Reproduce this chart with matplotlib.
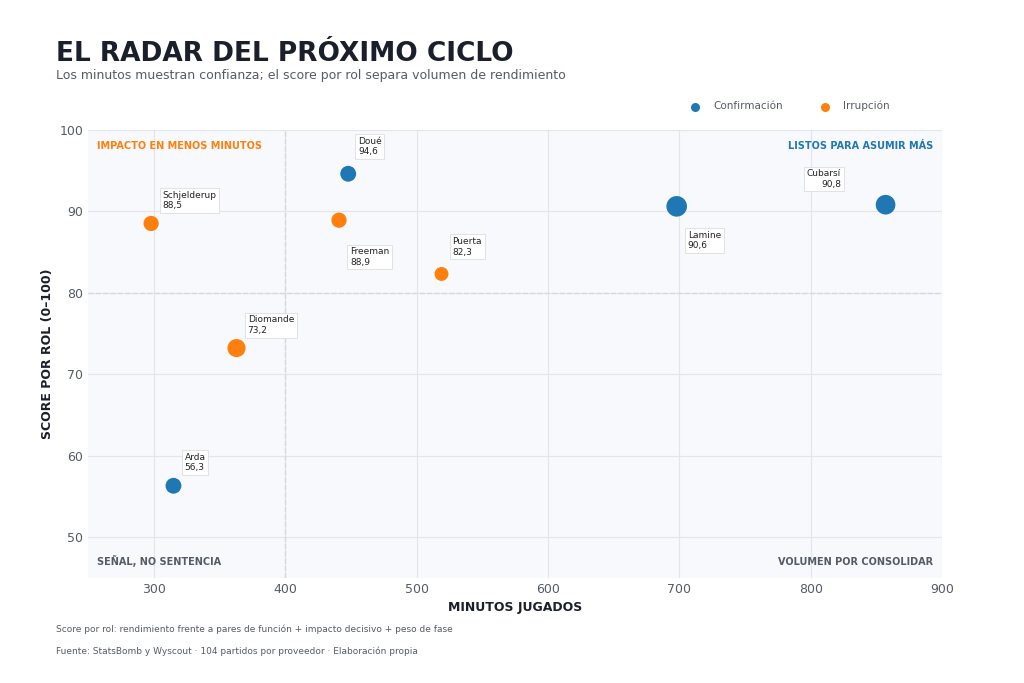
import matplotlib
matplotlib.use("Agg")
import matplotlib.pyplot as plt

names = ["Doué", "Schjelderup", "Freeman", "Puerta", "Diomande", "Arda", "Lamine", "Cubarsí"]
minutes = [448, 298, 441, 519, 363, 315, 698, 857]
score = [94.6, 88.5, 88.9, 82.3, 73.2, 56.3, 90.6, 90.8]
group = ["Confirmación", "Irrupción", "Irrupción", "Irrupción", "Irrupción", "Confirmación", "Confirmación", "Confirmación"]
sizes = [130, 120, 120, 100, 170, 130, 220, 200]
offsets = [(7, 14), (8, 11), (8, -32), (8, 14), (8, 11), (8, 11), (8, -30), (-32, 13)]

colors = {"Confirmación": "#1f77b4", "Irrupción": "#ff7f0e"}
cond = ["DejaVu Sans"]

fig = plt.figure(figsize=(10.24, 6.83), dpi=100)
ax = fig.add_axes([0.086, 0.154, 0.834, 0.656])
ax.set_facecolor("#f8f9fc")
for s in ax.spines.values():
    s.set_visible(False)
ax.set_xlim(250, 900)
ax.set_ylim(45, 100)
ax.set_xticks(range(300, 901, 100))
ax.set_yticks(range(50, 101, 10))
ax.grid(color="#e3e5ea", lw=0.8)
ax.set_axisbelow(True)
ax.tick_params(length=0, colors="#555b66", labelsize=9)
ax.axvline(400, color="#d5d8de", ls="--", lw=1)
ax.axhline(80, color="#d5d8de", ls="--", lw=1)

for n, x, y, g, s, off in zip(names, minutes, score, group, sizes, offsets):
    ax.scatter(x, y, s=s, color=colors[g], zorder=3, edgecolors="none")
    ax.annotate(f"{n}\n{str(y).replace('.', ',')}", (x, y), xytext=off, textcoords="offset points",
                fontsize=6.5, color="#222", linespacing=1.2,
                ha="right" if n == "Cubarsí" else "left",
                bbox=dict(boxstyle="square,pad=0.3", fc="white", ec="#dddddd", lw=0.6), zorder=4)
    
for g in ["Confirmación", "Irrupción"]:
    ax.scatter([], [], color=colors[g], s=30, label=g)
ax.legend(loc="lower right", bbox_to_anchor=(0.95, 1.02), ncol=2, frameon=False, fontsize=7.5,
          labelcolor="#555b66", handletextpad=0.8, columnspacing=3)

kw = dict(transform=ax.transAxes, fontsize=7, fontweight="bold", family=cond)
ax.text(0.01, 0.975, "IMPACTO EN MENOS MINUTOS", color="#ff7f0e", va="top", **kw)
ax.text(0.99, 0.975, "LISTOS PARA ASUMIR MÁS", color="#1f77b4", va="top", ha="right", **kw)
ax.text(0.01, 0.025, "SEÑAL, NO SENTENCIA", color="#555b66", va="bottom", **kw)
ax.text(0.99, 0.025, "VOLUMEN POR CONSOLIDAR", color="#555b66", va="bottom", ha="right", **kw)

ax.set_xlabel("MINUTOS JUGADOS", family=cond, fontweight="bold", fontsize=9, color="#1a1f2b")
ax.set_ylabel("SCORE POR ROL (0–100)", family=cond, fontweight="bold", fontsize=9, color="#1a1f2b")

fig.text(0.055, 0.91, "EL RADAR DEL PRÓXIMO CICLO", family=cond, fontweight="bold", fontsize=19, color="#1a1f2b")
fig.text(0.055, 0.885, "Los minutos muestran confianza; el score por rol separa volumen de rendimiento",
         fontsize=9, color="#555b66")
fig.text(0.055, 0.075, "Score por rol: rendimiento frente a pares de función + impacto decisivo + peso de fase",
         fontsize=6.5, color="#555b66")
fig.text(0.055, 0.043, "Fuente: StatsBomb y Wyscout · 104 partidos por proveedor · Elaboración propia",
         fontsize=6.5, color="#555b66")

fig.savefig("out.png", dpi=100, facecolor="white")
